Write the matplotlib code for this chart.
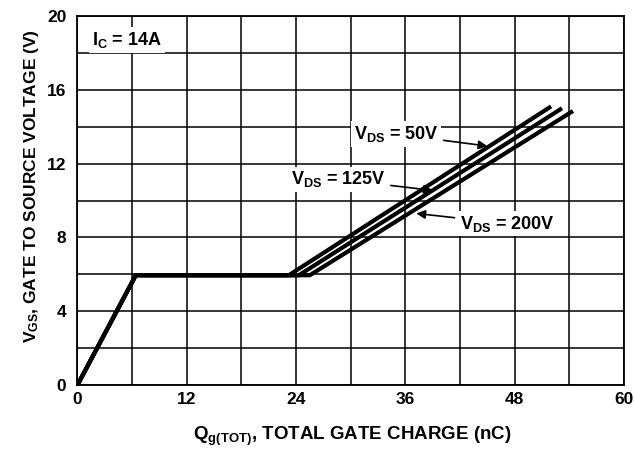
import matplotlib
matplotlib.use('Agg')
import numpy as np
import matplotlib.pyplot as plt

# Fonts: bold Arial look-alike everywhere, incl. subscripts
plt.rcParams['font.family'] = 'Liberation Sans'
plt.rcParams['font.weight'] = 'bold'
plt.rcParams['mathtext.fontset'] = 'custom'
plt.rcParams['mathtext.rm'] = 'Liberation Sans:bold'
plt.rcParams['mathtext.it'] = 'Liberation Sans:bold'
plt.rcParams['mathtext.bf'] = 'Liberation Sans:bold'

# Gate charge curves (Qg in nC, VGS in V)
qg_50v = [0, 6.4, 23.2, 52.0]
vgs_50v = [0, 5.95, 5.95, 15.1]
qg_125v = [0, 6.4, 24.3, 53.2]
vgs_125v = [0, 5.95, 5.95, 15.0]
qg_200v = [0, 6.4, 25.5, 54.4]
vgs_200v = [0, 5.95, 5.95, 14.85]

x_ticks = [0, 12, 24, 36, 48, 60]
y_ticks = [0, 4, 8, 12, 16, 20]

fig = plt.figure(figsize=(6.34, 4.53), dpi=100)
ax = fig.add_axes([0.1222, 0.150, 0.8620, 0.8147])

for q, v in [(qg_50v, vgs_50v), (qg_125v, vgs_125v), (qg_200v, vgs_200v)]:
    ax.plot(q, v, color='black', lw=3.0, solid_capstyle='butt', zorder=3)

ax.set_xlim(0, 60)
ax.set_ylim(0, 20)
ax.set_xticks(np.arange(0, 61, 6))
ax.set_yticks(np.arange(0, 21, 2))
ax.set_xticklabels([str(t) if t in x_ticks else '' for t in range(0, 61, 6)])
ax.set_yticklabels([str(t) if t in y_ticks else '' for t in range(0, 21, 2)])
ax.tick_params(length=0, labelsize=12.5, pad=5)
ax.tick_params(axis='y', pad=8)
for lbl in ax.get_xticklabels() + ax.get_yticklabels():
    lbl.set_fontweight('bold')
ax.grid(True, color='black', lw=1.1)
ax.set_axisbelow(True)
for s in ax.spines.values():
    s.set_linewidth(1.3)

fig.text(0.555, 0.036, r'Q$_{\rm g(TOT)}$, TOTAL GATE CHARGE (nC)',
         ha='center', va='center', fontsize=13.5, fontweight='bold')
fig.text(0.050, 0.590, r'V$_{\rm GS}$, GATE TO SOURCE VOLTAGE (V)',
         ha='center', va='center', rotation=90, fontsize=12.5, fontweight='bold')

box = dict(facecolor='white', edgecolor='none', pad=2)
ax.text(1.6, 18.7, r'I$_{\rm C}$ = 14A', ha='left', va='center',
        fontsize=13, fontweight='bold', bbox=box, zorder=4)

arrow = dict(arrowstyle='-|>', color='black', lw=1.2, mutation_scale=13,
             shrinkA=2, shrinkB=0)
ax.annotate(r'V$_{\rm DS}$ = 50V', xy=(45.0, 12.95), xytext=(39.6, 13.6),
            ha='right', va='center', fontsize=13, fontweight='bold',
            bbox=box, arrowprops=arrow, zorder=4)
ax.annotate(r'V$_{\rm DS}$ = 125V', xy=(39.0, 10.55), xytext=(33.8, 11.15),
            ha='right', va='center', fontsize=13, fontweight='bold',
            bbox=box, arrowprops=arrow, zorder=4)
ax.annotate(r'V$_{\rm DS}$ = 200V', xy=(37.2, 9.3), xytext=(42.0, 8.75),
            ha='left', va='center', fontsize=13, fontweight='bold',
            bbox=box, arrowprops=arrow, zorder=4)

fig.savefig('out.png', dpi=100)
